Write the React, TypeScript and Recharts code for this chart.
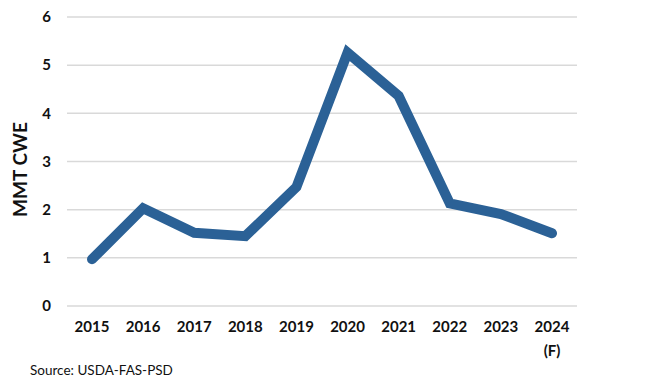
import { LineChart, Line, XAxis, YAxis, CartesianGrid } from 'recharts';

const years = ['2015', '2016', '2017', '2018', '2019', '2020', '2021', '2022', '2023', '2024'];
const exportsMmt = [0.97, 2.03, 1.52, 1.45, 2.47, 5.26, 4.36, 2.13, 1.91, 1.51];
const yTicks = [0, 1, 2, 3, 4, 5, 6];

const chartData = years.map((year, i) => ({ year, value: exportsMmt[i] }));

const FONT = 'Lato, "Open Sans", sans-serif';

function YearTick({ x, y, payload }: { x?: number; y?: number; payload?: { value: string } }) {
  const label = payload?.value ?? '';
  return (
    <text x={x} y={y} textAnchor="middle" fill="#111" fontSize={15} fontWeight={700} fontFamily={FONT}>
      <tspan x={x} dy="0.71em">{label}</tspan>
      {label === '2024' && <tspan x={x} dy="1.6em">(F)</tspan>}
    </text>
  );
}

function AxisTitle({ viewBox }: { viewBox?: { x: number; y: number; width: number; height: number } }) {
  if (!viewBox) return null;
  const cx = 27;
  const cy = viewBox.y + viewBox.height / 2 + 8;
  return (
    <text
      x={cx}
      y={cy}
      transform={`rotate(-90, ${cx}, ${cy})`}
      textAnchor="middle"
      fontSize={19}
      fontWeight={700}
      fill="#111"
      fontFamily={FONT}
    >
      MMT CWE
    </text>
  );
}

export default function App() {
  return (
    <div style={{ position: 'absolute', left: 0, top: 0, width: 650, height: 392, background: '#fff' }}>
      <LineChart width={650} height={392} data={chartData} margin={{ top: 17, right: 73, left: 0, bottom: 46 }}>
        <CartesianGrid vertical={false} stroke="#d9d9d9" strokeWidth={1.5} />
        <XAxis
          dataKey="year"
          height={40}
          axisLine={false}
          tickLine={false}
          tickMargin={9}
          interval={0}
          padding={{ left: 25, right: 25 }}
          tick={<YearTick />}
        />
        <YAxis
          width={67}
          domain={[0, 6]}
          ticks={yTicks}
          axisLine={false}
          tickLine={false}
          tickMargin={10}
          tick={{ fontSize: 15, fontWeight: 700, fill: '#111', fontFamily: FONT }}
          label={<AxisTitle />}
        />
        <Line
          type="linear"
          dataKey="value"
          stroke="#2b6196"
          strokeWidth={10}
          strokeLinecap="round"
          strokeLinejoin="miter"
          dot={false}
          isAnimationActive={false}
        />
      </LineChart>
      <div style={{ position: 'absolute', left: 30, top: 362, fontSize: 13.5, fontFamily: FONT, color: '#111' }}>
        Source: USDA-FAS-PSD
      </div>
    </div>
  );
}
